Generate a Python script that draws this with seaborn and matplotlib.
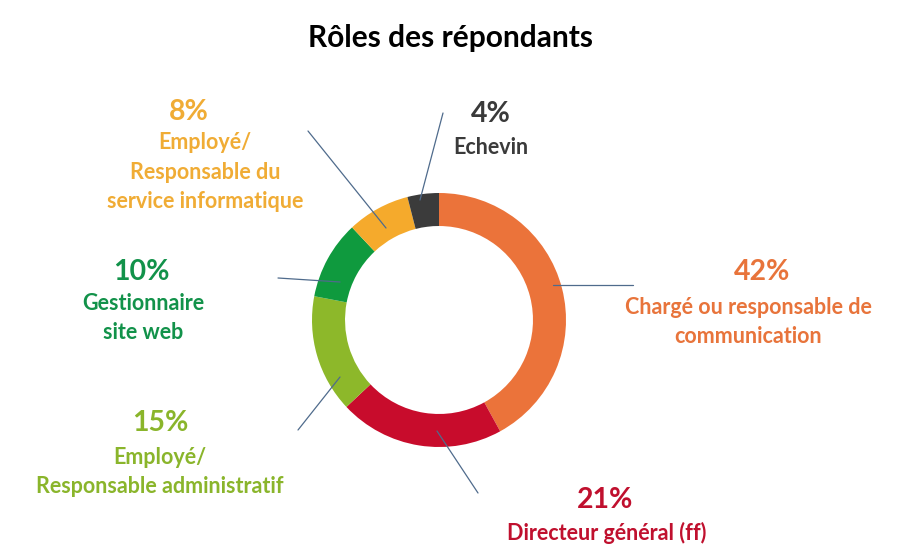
import matplotlib
matplotlib.use("Agg")
import matplotlib.pyplot as plt
import seaborn as sns

# ---- data ----
roles = ["Chargé ou responsable de\ncommunication", "Directeur général (ff)",
         "Employé/\nResponsable administratif", "Gestionnaire\nsite web",
         "Employé/\nResponsable du\nservice informatique", "Echevin"]
shares = [42, 21, 15, 10, 8, 4]
colors = ["#EB733A", "#C80C2C", "#8DB82A", "#0F9A3E", "#F5AA2C", "#3B3B3B"]
text_colors = ["#E8743B", "#C0102E", "#8AB52B", "#12924A", "#F0AC35", "#3A3A3A"]

sns.set_theme(style="white")
plt.rcParams['font.family'] = ['Lato', 'DejaVu Sans']

W, H = 903, 553
fig = plt.figure(figsize=(W / 100, H / 100), dpi=100)
ax = fig.add_axes([0, 0, 1, 1])

cx, cy, R = 439, H - 320, 127
ax.pie(shares, colors=colors, startangle=90, counterclock=False,
       center=(cx, cy), radius=R, frame=True,
       wedgeprops=dict(width=R * 0.26, linewidth=0))
ax.set_xlim(0, W)
ax.set_ylim(0, H)
ax.set_aspect("equal")
ax.axis("off")

# label layout: (pct_x, pct_y, label_x, label_y), connector (x0,y0,x1,y1) in pixel coords (top-left origin)
layout = [
    (762, 272, 748, 322, (553, 285, 633, 285)),
    (605, 500, 607, 533, (437, 431, 478, 493)),
    (160, 423, 160, 472, (340, 377, 298, 430)),
    (141, 272, 143, 318, (340, 282, 278, 278)),
    (189, 112, 205, 172, (386, 228, 308, 131)),
    (491, 114, 491, 147, (420, 200, 443, 113)),
]

for share, role, tc, (px, py, lx, ly, (x0, y0, x1, y1)) in zip(shares, roles, text_colors, layout):
    ax.plot([x0, x1], [H - y0, H - y1], color="#4F6B8C", lw=0.9, zorder=3)
    ax.text(px, H - py, f"{share}%", color=tc, fontsize=20.5, fontweight="bold",
            ha="center", va="center")
    ax.text(lx, H - ly, role, color=tc, fontsize=15.5, fontweight="bold",
            ha="center", va="center", linespacing=1.5)

ax.text(451, H - 38, "Rôles des répondants", color="black", fontsize=21.5,
        fontweight="bold", ha="center", va="center")

fig.savefig("out.png", dpi=100, facecolor="white")
